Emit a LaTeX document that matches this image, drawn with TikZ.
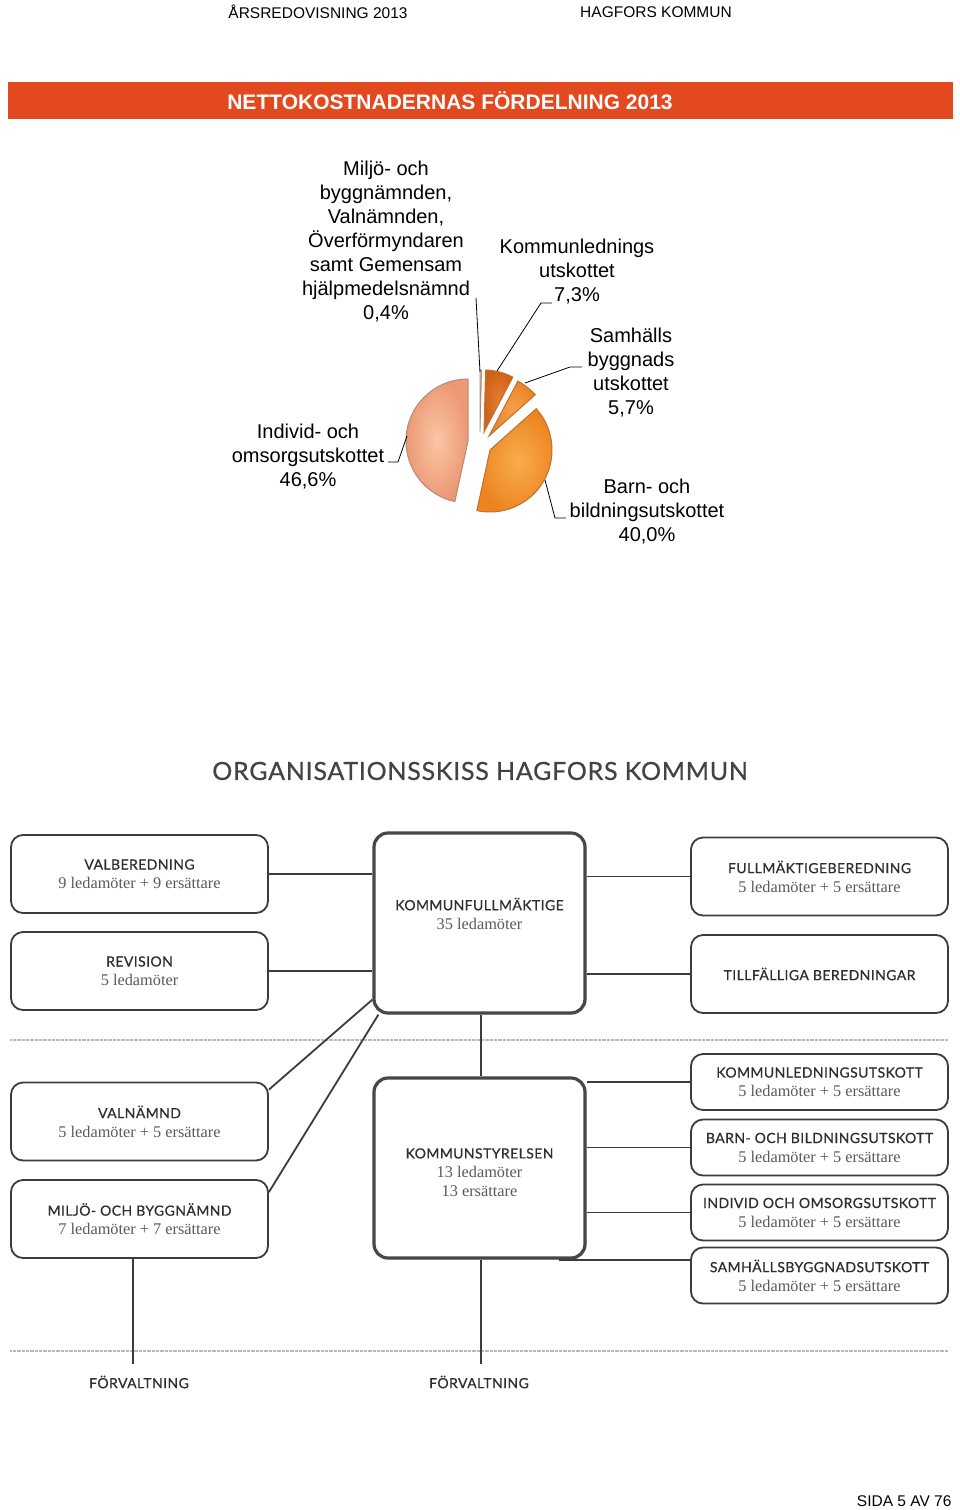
\documentclass[tikz,border=0pt]{standalone}
\usepackage{fontspec}
\setmainfont{Liberation Sans}
\newfontfamily\orgfont[LetterSpace=3, FakeBold=0.6]{Lato}
\newfontfamily\serfont{Liberation Serif}
\usetikzlibrary{shadows}

\definecolor{barorange}{HTML}{E2491F}
\definecolor{boxgray}{HTML}{3C3C3C}
\definecolor{bigline}{HTML}{474747}
\definecolor{titlegray}{HTML}{2E2E2E}
\definecolor{subgray}{HTML}{5A5A5A}
\definecolor{iolight}{HTML}{FAC6A6}
\definecolor{iodark}{HTML}{EC9874}
\definecolor{iorim}{HTML}{B38C7A}
\definecolor{bblight}{HTML}{F9AC4E}
\definecolor{bbdark}{HTML}{EC8420}
\definecolor{bbrim}{HTML}{BD7132}
\definecolor{kllight}{HTML}{E47E2C}
\definecolor{kldark}{HTML}{D0621A}
\definecolor{sblight}{HTML}{F5A045}
\definecolor{sbdark}{HTML}{EA8428}
\definecolor{mjlight}{HTML}{EEDCD2}

\newcommand{\ledam}[1]{{\serfont\fontsize{16.3}{19}\selectfont\color{subgray}#1}}

\tikzset{
  smallbox/.style={draw=boxgray, line width=1.8pt, rounded corners=12pt, fill=white,
    minimum width=257pt, minimum height=78pt, align=center, inner sep=0pt,
    text=titlegray, font=\orgfont\fontsize{14}{19}\selectfont},
  lowbox/.style={smallbox, minimum height=56pt},
  bigbox/.style={smallbox, minimum width=211pt, minimum height=180pt, line width=3.2pt,
    draw=bigline, rounded corners=14pt,
    drop shadow={shadow xshift=1.5pt, shadow yshift=-1.5pt, opacity=0.35}},
  conn/.style={draw=boxgray, line width=1.8pt},
  leader/.style={draw=black, line width=0.8pt},
  sepline/.style={draw=gray!55, line width=2.2pt, dash pattern=on 0.8pt off 0.5pt},
  pielabel/.style={align=center, font=\fontsize{20}{24}\selectfont},
}

\begin{document}
\begin{tikzpicture}[x=1pt, y=-1pt]
  \fill[white] (0,0) rectangle (960,1510);
  \useasboundingbox (0,0) rectangle (960,1510);

  % page head
  \node[font=\fontsize{15.5}{18}\selectfont] (headl) at (318,12) {ÅRSREDOVISNING 2013};
  \node[font=\fontsize{15.5}{18}\selectfont] (headr) at (656,12) {HAGFORS KOMMUN};
  \fill[barorange] (8,82) rectangle (953,119);
  \node[white, font=\bfseries\fontsize{21}{24}\selectfont] (bartitle) at (450,101) {NETTOKOSTNADERNAS FÖRDELNING 2013};

  % pie slices
  \shade[inner color=mjlight, outer color=iorim!60, draw=iorim, line width=0.8pt]
    (480,432) -- ++(90:62pt) arc[start angle=90, end angle=88.56, radius=62pt] -- cycle;
  \shade[inner color=kllight, outer color=kldark, draw=bbrim, line width=1pt]
    (484,432) -- ++(88.56:62pt) arc[start angle=88.56, end angle=62.28, radius=62pt] -- cycle;
  \shade[inner color=sblight, outer color=sbdark, draw=bbrim, line width=1pt]
    (489,436) -- ++(62.28:62pt) arc[start angle=62.28, end angle=41.76, radius=62pt] -- cycle;
  \shade[inner color=bblight, outer color=bbdark, draw=bbrim, line width=1pt]
    (490,450) -- ++(41.76:62pt) arc[start angle=41.76, end angle=-102.24, radius=62pt] -- cycle;
  \shade[inner color=iolight, outer color=iodark, draw=iorim, line width=1pt]
    (468,441) -- ++(90:62pt) arc[start angle=90, end angle=257.76, radius=62pt] -- cycle;

  % pie labels
  \node[pielabel] (mjlab) at (386,242) {Miljö- och\\byggnämnden,\\Valnämnden,\\Överförmyndaren\\samt Gemensam\\hjälpmedelsnämnd\\0,4\%};
  \node[pielabel] (kllab) at (577,272) {Kommunlednings\\utskottet\\7,3\%};
  \node[pielabel] (sblab) at (631,373) {Samhälls\\byggnads\\utskottet\\5,7\%};
  \node[pielabel] (iolab) at (308,457) {Individ- och\\omsorgsutskottet\\46,6\%};
  \node[pielabel] (bblab) at (647,512) {Barn- och\\bildningsutskottet\\40,0\%};

  \coordinate (mjA) at (476,298); \coordinate (mjB) at (480,372);
  \coordinate (klA) at (552,303); \coordinate (klB) at (497,371);
  \coordinate (sbA) at (582,367); \coordinate (sbB) at (525,383);
  \coordinate (ioA) at (388,462); \coordinate (ioB) at (407,436);
  \coordinate (bbA) at (545,480); \coordinate (bbB) at (566,518);
  \draw[leader] (mjA) -- (mjB);
  \draw[leader] (klA) -- ++(-11,0) -- (klB);
  \draw[leader] (sbA) -- ++(-12,0) -- (sbB);
  \draw[leader] (ioA) -- ++(10,0) -- (ioB);
  \draw[leader] (bbA) -- (555,518) -- (bbB);

  % organisation
  \node[text=titlegray!90, font=\orgfont\fontsize{25}{30}\selectfont] (orgtitle) at (480,771) {ORGANISATIONSSKISS HAGFORS KOMMUN};

  \node[bigbox] (kf) at (479.5,923) {KOMMUNFULLMÄKTIGE\\\ledam{35 ledamöter}\\~};
  \node[bigbox] (ks) at (479.5,1168) {~\\KOMMUNSTYRELSEN\\\ledam{13 ledamöter}\\\ledam{13 ersättare}};

  \node[smallbox] (vb) at (139.5,874) {VALBEREDNING\\\ledam{9 ledamöter + 9 ersättare}};
  \node[smallbox] (rv) at (139.5,971) {REVISION\\\ledam{5 ledamöter}};
  \node[smallbox] (vn) at (139.5,1121.5) {VALNÄMND\\\ledam{5 ledamöter + 5 ersättare}};
  \node[smallbox] (mb) at (139.5,1219) {MILJÖ- OCH BYGGNÄMND\\\ledam{7 ledamöter + 7 ersättare}};

  \node[smallbox] (fb) at (819.5,876.5) {FULLMÄKTIGEBEREDNING\\\ledam{5 ledamöter + 5 ersättare}};
  \node[smallbox] (tb) at (819.5,974) {TILLFÄLLIGA BEREDNINGAR};
  \node[lowbox] (kl) at (819.5,1082) {KOMMUNLEDNINGSUTSKOTT\\\ledam{5 ledamöter + 5 ersättare}};
  \node[lowbox] (bb) at (819.5,1147.5) {BARN- OCH BILDNINGSUTSKOTT\\\ledam{5 ledamöter + 5 ersättare}};
  \node[lowbox] (io) at (819.5,1212.5) {INDIVID OCH OMSORGSUTSKOTT\\\ledam{5 ledamöter + 5 ersättare}};
  \node[lowbox] (sb) at (819.5,1275.5) {SAMHÄLLSBYGGNADSUTSKOTT\\\ledam{5 ledamöter + 5 ersättare}};

  \draw[sepline] (10,1040) -- (948,1040);
  \draw[sepline] (10,1351) -- (948,1351);

  \draw[conn] (vb.east) -- (vb.east -| kf.west);
  \draw[conn] (rv.east) -- (rv.east -| kf.west);
  \draw[conn] (kf.east |- fb.west) -- (fb.west);
  \draw[conn] (kf.east |- tb.west) -- (tb.west);
  \draw[conn] ([yshift=15pt]kf.south west) -- ([yshift=-8pt]vn.north east);
  \draw[conn] ([xshift=6pt]kf.south west) -- ([yshift=-13pt]mb.north east);
  \draw[conn] ([xshift=1.5pt]kf.south) -- ([xshift=1.5pt]ks.north);
  \draw[conn] (ks.east |- kl.west) -- (kl.west);
  \draw[conn] (ks.east |- bb.west) -- (bb.west);
  \draw[conn] (ks.east |- io.west) -- (io.west);
  \draw[conn] ([xshift=-28pt]ks.south east) -- (ks.south -| sb.west);

  \coordinate (fvend) at (0,1364);
  \draw[conn] ([xshift=-6.5pt]mb.south) -- ([xshift=-6.5pt]mb.south |- fvend);
  \draw[conn] ([xshift=1.5pt]ks.south) -- ([xshift=1.5pt]ks.south |- fvend);
  \node[text=titlegray, font=\orgfont\fontsize{14}{16}\selectfont] (fv1) at (139,1382) {FÖRVALTNING};
  \node[text=titlegray, font=\orgfont\fontsize{14}{16}\selectfont] (fv2) at (479,1382) {FÖRVALTNING};

  \node[anchor=east, font=\fontsize{15.5}{18}\selectfont] (sida) at (955,1501) {SIDA 5 AV 76};
\end{tikzpicture}
\end{document}
